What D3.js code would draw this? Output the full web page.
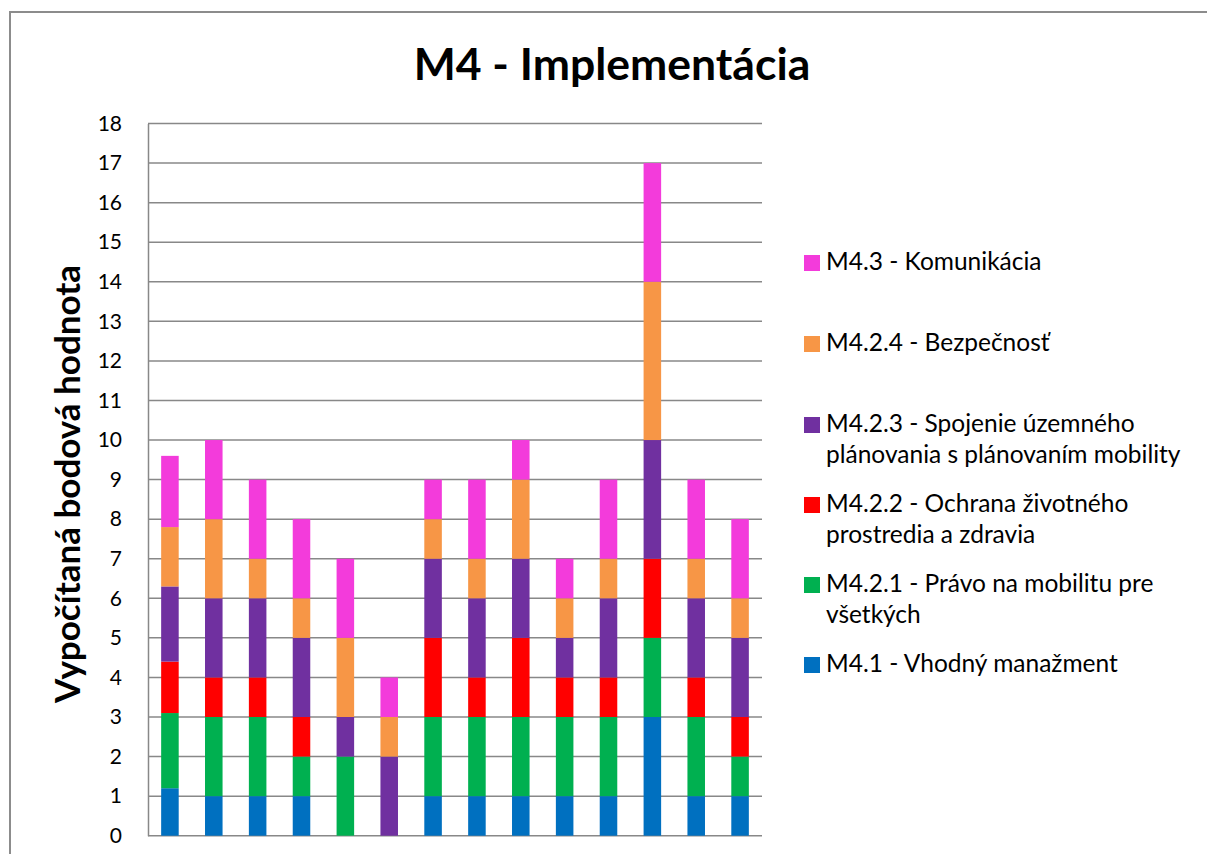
<!DOCTYPE html>
<html>
<head>
<meta charset="utf-8">
<script src="https://cdn.jsdelivr.net/npm/d3@7"></script>
<style>
  html, body { margin: 0; padding: 0; background: #fff; overflow: hidden; }
  svg { display: block; font-family: Lato, "Open Sans", sans-serif; }
</style>
</head>
<body>
<svg id="chart" width="1207" height="854"></svg>
<script>
// Categories (one stacked column each)
const categories = ["1","2","3","4","5","6","7","8","9","10","11","12","13","14"];

// Series, stacked bottom to top
const seriesNames = [
  "M4.1 - Vhodný manažment",
  "M4.2.1 - Právo na mobilitu pre všetkých",
  "M4.2.2 - Ochrana životného prostredia a zdravia",
  "M4.2.3 - Spojenie územného plánovania s plánovaním mobility",
  "M4.2.4 - Bezpečnosť",
  "M4.3 - Komunikácia"
];
const seriesColors = ["#0070C0", "#00B050", "#FF0000", "#7030A0", "#F79646", "#F33BDB"];

const m41  = [1.2, 1, 1, 1, 0, 0, 1, 1, 1, 1, 1, 3, 1, 1];
const m421 = [1.9, 2, 2, 1, 2, 0, 2, 2, 2, 2, 2, 2, 2, 1];
const m422 = [1.3, 1, 1, 1, 0, 0, 2, 1, 2, 1, 1, 2, 1, 1];
const m423 = [1.9, 2, 2, 2, 1, 2, 2, 2, 2, 1, 2, 3, 2, 2];
const m424 = [1.5, 2, 1, 1, 2, 1, 1, 1, 2, 1, 1, 4, 1, 1];
const m43  = [1.8, 2, 2, 2, 2, 1, 1, 2, 1, 1, 2, 3, 2, 2];

// Legend text lines (as wrapped in the legend box), top entry first
const legendLines = [
  ["M4.3 - Komunikácia"],
  ["M4.2.4 - Bezpečnosť"],
  ["M4.2.3 - Spojenie územného", "plánovania s plánovaním mobility"],
  ["M4.2.2 - Ochrana životného", "prostredia a zdravia"],
  ["M4.2.1 - Právo na mobilitu pre", "všetkých"],
  ["M4.1 - Vhodný manažment"]
];
const legendColors = ["#F33BDB", "#F79646", "#7030A0", "#FF0000", "#00B050", "#0070C0"];

const yTicks = d3.range(0, 19, 1);
const titleText = "M4 - Implementácia";
const yTitle = "Vypočítaná bodová hodnota";

const seriesValues = [m41, m421, m422, m423, m424, m43];
const rows = categories.map((c, i) => {
  const r = { cat: c };
  seriesValues.forEach((vals, s) => { r["s" + s] = vals[i]; });
  return r;
});
const keys = seriesValues.map((_, s) => "s" + s);
const stacked = d3.stack().keys(keys)(rows);

const svg = d3.select("#chart");
const grid = "#888888";

// Chart area frame (left and top edges fall inside the view)
svg.append("line").attr("x1", 10).attr("x2", 10).attr("y1", 11).attr("y2", 854)
  .attr("stroke", "#8c8c8c").attr("stroke-width", 2);
svg.append("line").attr("x1", 9).attr("x2", 1207).attr("y1", 12).attr("y2", 12)
  .attr("stroke", "#8c8c8c").attr("stroke-width", 2);

const plot = { left: 148, right: 762, top: 123.5, bottom: 835.7 };

const x = d3.scaleBand().domain(categories)
  .range([plot.left, plot.right]).paddingInner(0.6).paddingOuter(0.3);
const y = d3.scaleLinear().domain([0, 18]).range([plot.bottom, plot.top]);

// Horizontal gridlines
svg.append("g")
  .selectAll("line").data(yTicks).join("line")
  .attr("x1", plot.left).attr("x2", plot.right)
  .attr("y1", d => y(d)).attr("y2", d => y(d))
  .attr("stroke", grid).attr("stroke-width", 1.5);

// Y axis
const yAxis = svg.append("g")
  .attr("transform", `translate(${plot.left},0)`)
  .call(d3.axisLeft(y).tickValues(yTicks).tickSize(0).tickPadding(26).tickFormat(d3.format("d")));
yAxis.select(".domain").attr("stroke", grid).attr("stroke-width", 1.5);
yAxis.selectAll("text")
  .attr("font-size", 21).attr("fill", "#000")
  .attr("font-family", "Lato, sans-serif");

// Stacked bars
svg.append("g")
  .selectAll("g").data(stacked).join("g")
  .attr("fill", (d, i) => seriesColors[i])
  .selectAll("rect").data(d => d).join("rect")
  .attr("x", d => x(d.data.cat))
  .attr("width", x.bandwidth())
  .attr("y", d => y(d[1]))
  .attr("height", d => Math.max(0, y(d[0]) - y(d[1])));

// Title
svg.append("text")
  .attr("x", 612).attr("y", 80)
  .attr("text-anchor", "middle")
  .attr("font-size", 44.5).attr("font-weight", "bold")
  .attr("fill", "#000")
  .text(titleText);

// Y axis title
svg.append("text")
  .attr("transform", "translate(80,484) rotate(-90)")
  .attr("text-anchor", "middle")
  .attr("font-size", 35).attr("font-weight", "bold")
  .attr("fill", "#000")
  .text(yTitle);

// Legend
const legendTops = [270, 351, 432, 512, 592, 672];
const legend = svg.append("g");
legendLines.forEach((lines, i) => {
  const base = legendTops[i];
  legend.append("rect")
    .attr("x", 804).attr("y", base - 15)
    .attr("width", 16).attr("height", 16)
    .attr("fill", legendColors[i]);
  lines.forEach((ln, j) => {
    legend.append("text")
      .attr("x", 826).attr("y", base + j * 31)
      .attr("font-size", 24.5).attr("fill", "#000")
      .text(ln);
  });
});
</script>
</body>
</html>
